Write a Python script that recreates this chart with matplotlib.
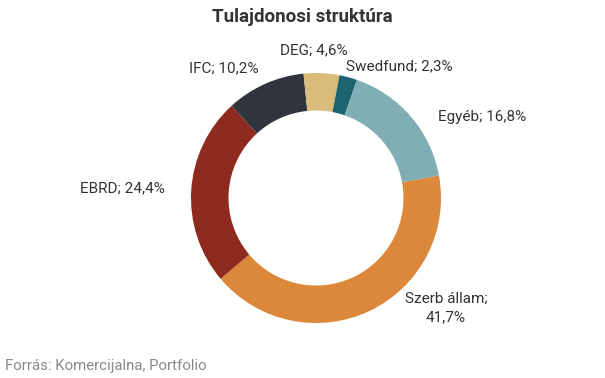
import numpy as np
import matplotlib.pyplot as plt

plt.rcParams['font.family'] = ['Roboto', 'DejaVu Sans']

# data
labels = ["Szerb állam", "EBRD", "IFC", "DEG", "Swedfund", "Egyéb"]
shares = [41.7, 24.4, 10.2, 4.6, 2.3, 16.8]
colors = ["#DC883B", "#8E2A1E", "#30353D", "#D9BC7A", "#1C6470", "#7FAEB5"]

# label placement (data units relative to outer radius) and alignment
label_pos = {
    "Szerb állam": (1.04, -0.88, "center"),
    "EBRD": (-1.21, 0.08, "right"),
    "IFC": (-0.46, 1.04, "right"),
    "DEG": (-0.02, 1.18, "center"),
    "Swedfund": (0.24, 1.05, "left"),
    "Egyéb": (0.98, 0.65, "left"),
}

fig = plt.figure(figsize=(6.05, 3.78), dpi=100)
ax = fig.add_axes([191 / 605, 55 / 378, 250 / 605, 250 / 378])

ax.pie(shares, colors=colors, startangle=10.4, counterclock=False,
       radius=1, wedgeprops=dict(width=0.3, linewidth=0))
ax.set_xlim(-1, 1)
ax.set_ylim(-1, 1)
ax.set_aspect("equal")
ax.axis("off")

for lab, val in zip(labels, shares):
    x, y, ha = label_pos[lab]
    txt = f"{lab}; {val:.1f}%".replace(".", ",")
    if lab == "Szerb állam":
        txt = f"{lab};\n{val:.1f}%".replace(".", ",")
    ax.text(x, y, txt, ha=ha, va="center", fontsize=11, color="#333333",
            linespacing=1.45, clip_on=False)

fig.text(0.5, 1 - 17 / 378, "Tulajdonosi struktúra", ha="center", va="center",
         fontsize=13.5, fontweight="bold", color="#333333")
fig.text(5 / 605, 1 - 366 / 378, "Forrás: Komercijalna, Portfolio", ha="left",
         va="center", fontsize=10.8, color="#8A8A8A")

fig.savefig("out.png", dpi=100)
